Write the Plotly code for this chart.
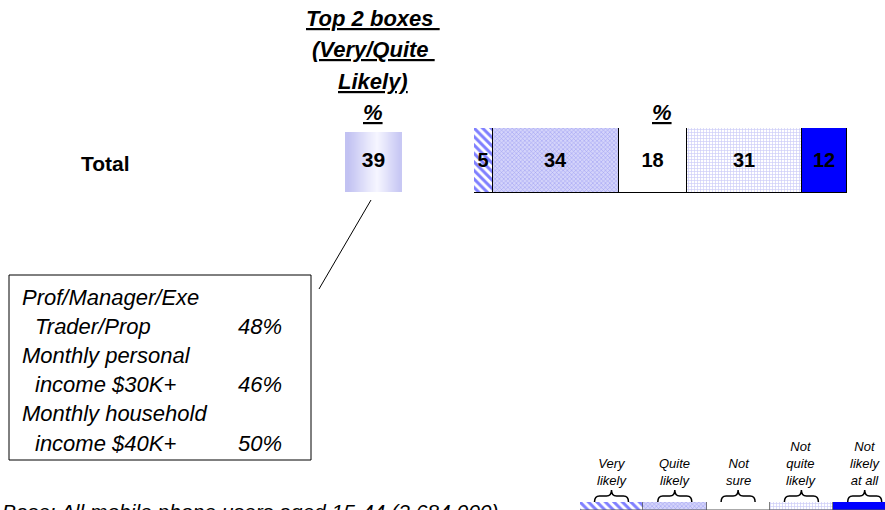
import plotly.graph_objects as go

W, H = 885, 510
def px(x):
    return x / W
def py(y):
    return 1 - y / H

# ---- data ----
categories = ["Very likely", "Quite likely", "Not sure", "Not quite likely", "Not likely at all"]
row_label = "Total"
values = [5, 34, 18, 31, 12]
top2_value = 39
legend_lines = [["Very", "likely"], ["Quite", "likely"], ["Not", "sure"],
                ["Not", "quite", "likely"], ["Not", "likely", "at all"]]
callout_labels = ["Prof/Manager/Exe", "  Trader/Prop", "Monthly personal",
                  "  income $30K+", "Monthly household", "  income $40K+"]
callout_values = ["", "48%", "", "46%", "", "50%"]
base_text = "Base: All mobile phone users aged 15-44 (2,684,000)"

# ---- styles ----
FONT = "Liberation Sans, Arial, sans-serif"
styles = [
    dict(color="white", pattern=dict(shape="\\", fgcolor="#0000FF", bgcolor="white", size=6, solidity=0.5)),
    dict(color="#C8C8F4", pattern=dict(shape="x", fgcolor="#6E6EEC", bgcolor="#D4D4FA", size=3, solidity=0.35)),
    dict(color="white"),
    dict(color="white", pattern=dict(shape="+", fgcolor="#9A9AF0", bgcolor="white", size=3, solidity=0.4)),
    dict(color="#0000FF"),
]

fig = go.Figure()

for cat, val, st in zip(categories, values, styles):
    fig.add_trace(go.Bar(
        y=[row_label], x=[val], orientation="h", name=cat, width=1,
        marker=dict(line=dict(color="#000000", width=1), **st),
        text=[str(val)], textposition="inside", insidetextanchor="middle",
        textfont=dict(family=FONT, size=20, color="black", weight="bold"),
        xaxis="x", yaxis="y", showlegend=False, hoverinfo="skip",
    ))

# legend swatches (equal width)
for cat, st in zip(categories, styles):
    fig.add_trace(go.Bar(
        y=[0], x=[1], orientation="h", width=1,
        marker=dict(line=dict(color="#555555", width=0.5), **st),
        xaxis="x3", yaxis="y3", showlegend=False, hoverinfo="skip",
    ))

# top-2 box with gradient
grad = [list(range(11))]
fig.add_trace(go.Heatmap(
    z=grad, x=list(range(11)), y=[0], zsmooth="best", showscale=False,
    colorscale=[[0, "#C2C2F2"], [0.55, "#F6F6FF"], [1, "#C8C8F4"]],
    xaxis="x2", yaxis="y2", hoverinfo="skip",
))
fig.add_trace(go.Scatter(
    x=[5], y=[0], mode="text", text=[str(top2_value)],
    textfont=dict(family=FONT, size=21, color="black", weight="bold"),
    xaxis="x2", yaxis="y2", showlegend=False, hoverinfo="skip",
))

ax_hidden = dict(visible=False, showgrid=False, zeroline=False, fixedrange=True)
fig.update_layout(
    width=W, height=H, margin=dict(l=0, r=0, t=0, b=0),
    paper_bgcolor="white", plot_bgcolor="rgba(0,0,0,0)",
    barmode="stack", bargap=0,
    uniformtext=dict(minsize=19, mode="show"),
    xaxis=dict(domain=[px(474), px(847)], range=[0, 100], **ax_hidden),
    yaxis=dict(domain=[py(193), py(128)], range=[-0.5, 0.5], **ax_hidden),
    xaxis2=dict(domain=[px(345), px(402)], range=[-0.5, 10.5], anchor="y2", **ax_hidden),
    yaxis2=dict(domain=[py(192), py(132)], range=[-0.5, 0.5], anchor="x2", **ax_hidden),
    xaxis3=dict(domain=[px(580), 1], range=[0, (W - 580) / 63.3], anchor="y3", **ax_hidden),
    yaxis3=dict(domain=[0, py(502)], range=[-0.5, 0.5], anchor="x3", **ax_hidden),
)

ann = []
def U(s):
    return '<span style="text-decoration:underline">' + s + '</span>'

title_font = dict(family=FONT, size=22, color="black", weight="bold", style="italic")
for txt, yy in [("Top 2 boxes ", 19), ("(Very/Quite ", 50), ("Likely)", 82), ("%", 112)]:
    ann.append(dict(x=px(373), y=py(yy), xref="paper", yref="paper", text=U(txt),
                    showarrow=False, xanchor="center", yanchor="middle", font=title_font))
ann.append(dict(x=px(662), y=py(112), xref="paper", yref="paper", text=U("%"),
                showarrow=False, xanchor="center", yanchor="middle", font=title_font))
ann.append(dict(x=px(105), y=py(163), xref="paper", yref="paper", text=row_label,
                showarrow=False, xanchor="center", yanchor="middle",
                font=dict(family=FONT, size=21, color="black", weight="bold")))

co_font = dict(family=FONT, size=22, color="black", style="italic")
for i, (lab, v) in enumerate(zip(callout_labels, callout_values)):
    yy = 297 + i * 29.2
    indent = lab.startswith("  ")
    ann.append(dict(x=px(33 if indent else 20), y=py(yy), xref="paper", yref="paper",
                    text=lab.strip(), showarrow=False, xanchor="left", yanchor="middle", font=co_font))
    if v:
        ann.append(dict(x=px(236), y=py(yy), xref="paper", yref="paper",
                        text=v, showarrow=False, xanchor="left", yanchor="middle", font=co_font))

lg_font = dict(family=FONT, size=13, color="black", style="italic")
for i, lines in enumerate(legend_lines):
    cx = 611.5 + i * 63.3
    ann.append(dict(x=px(cx), y=py(489), xref="paper", yref="paper", text="<br>".join(lines),
                    showarrow=False, xanchor="center", yanchor="bottom", font=lg_font,
                    borderpad=0))

ann.append(dict(x=0, y=py(498), xref="paper", yref="paper", text=base_text,
                showarrow=False, xanchor="left", yanchor="top",
                font=dict(family=FONT, size=21, color="black", style="italic")))

shapes = [
    dict(type="rect", xref="paper", yref="paper", x0=px(9), x1=px(311), y0=py(275), y1=py(460),
         line=dict(color="black", width=1), fillcolor="rgba(0,0,0,0)"),
    dict(type="line", xref="paper", yref="paper", x0=px(319), y0=py(289), x1=px(371), y1=py(200),
         line=dict(color="black", width=1)),
]
for i in range(len(legend_lines)):
    cx = 611.5 + i * 63.3
    x0, x1 = cx - 17, cx + 17
    yb, ym, yt = 502, 496, 490
    pts = [
        f"M {px(x0)},{py(yb)}",
        f"Q {px(x0)},{py(ym)} {px(x0+5)},{py(ym)}",
        f"L {px(cx-5)},{py(ym)}",
        f"Q {px(cx)},{py(ym)} {px(cx)},{py(yt)}",
        f"Q {px(cx)},{py(ym)} {px(cx+5)},{py(ym)}",
        f"L {px(x1-5)},{py(ym)}",
        f"Q {px(x1)},{py(ym)} {px(x1)},{py(yb)}",
    ]
    shapes.append(dict(type="path", xref="paper", yref="paper", path=" ".join(pts),
                       line=dict(color="black", width=1.5)))

fig.update_layout(annotations=ann, shapes=shapes)
fig.write_html("out.html")
